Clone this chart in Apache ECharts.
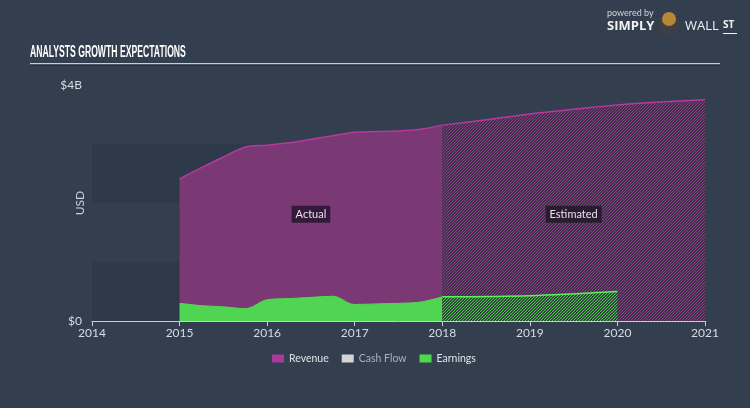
<!DOCTYPE html>
<html><head><meta charset="utf-8">
<script src="https://cdn.jsdelivr.net/npm/echarts@6/dist/echarts.min.js"></script>
<style>html,body{margin:0;padding:0;background:#333f4f;}#c{width:750px;height:408px;}</style>
</head><body><div id="c"></div>
<script>
// Data (USD billions), x = fractional year
const revenueActualX = [2015.0, 2015.25, 2015.5, 2015.75, 2016.0, 2016.25, 2016.5, 2016.75, 2017.0, 2017.25, 2017.5, 2017.75, 2018.0];
const revenueActual  = [2.41, 2.60, 2.78, 2.95, 2.98, 3.02, 3.08, 3.14, 3.20, 3.21, 3.22, 3.25, 3.32];
const revenueEstX = [2018.0, 2018.5, 2019.0, 2019.5, 2020.0, 2020.5, 2021.0];
const revenueEst  = [3.32, 3.41, 3.51, 3.59, 3.66, 3.71, 3.75];
const earningsActualX = [2015.0, 2015.25, 2015.5, 2015.75, 2016.0, 2016.25, 2016.5, 2016.75, 2017.0, 2017.25, 2017.5, 2017.75, 2018.0];
const earningsActual  = [0.30, 0.26, 0.24, 0.21, 0.36, 0.38, 0.40, 0.42, 0.28, 0.29, 0.30, 0.32, 0.41];
const earningsEstX = [2018.0, 2019.0, 2020.0];
const earningsEst  = [0.41, 0.43, 0.50];
const yearTicks = [2014, 2015, 2016, 2017, 2018, 2019, 2020, 2021];
const legendNames = ['Revenue', 'Cash Flow', 'Earnings'];

function pairs(xs, ys){ return xs.map((x,i)=>[x, ys[i]]); }
function hatch(fg, bg){
  const c = document.createElement('canvas'); c.width = 3; c.height = 3;
  const g = c.getContext('2d');
  g.fillStyle = bg; g.fillRect(0,0,3,3);
  g.fillStyle = fg;
  g.fillRect(2,0,1,1); g.fillRect(1,1,1,1); g.fillRect(0,2,1,1);
  return {image: c, repeat: 'repeat'};
}

const chart = echarts.init(document.getElementById('c'), null, {renderer:'canvas'});
const option = {
  backgroundColor: '#333f4f',
  animation: false,
  textStyle: {fontFamily: 'Lato, "Noto Sans", sans-serif'},
  grid: {left: 92, right: 45, top: 85, bottom: 87},
  legend: {
    data: [
      {name: legendNames[0], itemStyle: {color: '#a9399b'}},
      {name: legendNames[1], itemStyle: {color: '#d4d4d4'}, textStyle: {color: '#a9b0ba'}},
      {name: legendNames[2], itemStyle: {color: '#4fd84f'}}
    ],
    left: 267, top: 348, icon: 'rect', itemWidth: 12, itemHeight: 8, itemGap: 13,
    textStyle: {color: '#dfe3e8', fontSize: 10.5}, selectedMode: false
  },
  xAxis: {
    type: 'value', min: 2014, max: 2021, interval: 1,
    axisLine: {lineStyle: {color: '#c5cdd8', width: 1}},
    axisTick: {show: true, length: 5, lineStyle: {color: '#c5cdd8'}},
    axisLabel: {color: '#d6dbe2', fontSize: 12, margin: 6, formatter: v => String(v)},
    splitLine: {show: false}
  },
  yAxis: {
    type: 'value', min: 0, max: 4, interval: 4,
    axisLine: {show: false}, axisTick: {show: false},
    axisLabel: {color: '#d6dbe2', fontSize: 12, margin: 10, formatter: v => v === 0 ? '$0' : '$' + v + 'B'},
    splitLine: {show: false}
  },
  series: [
    {
      name: 'bands', type: 'line', data: [], z: 0, silent: true,
      markArea: {
        silent: true,
        itemStyle: {color: '#2e3a49'},
        data: [
          [{coord: [2014, 0]}, {coord: [2021, 1]}],
          [{coord: [2014, 2]}, {coord: [2021, 3]}]
        ]
      }
    },
    {
      name: 'Revenue', type: 'line', z: 2, smooth: 0.3, symbol: 'none',
      data: pairs(revenueActualX, revenueActual),
      itemStyle: {color: '#a9399b'},
      lineStyle: {color: '#b8389f', width: 1.5},
      areaStyle: {color: '#7a3874', opacity: 1},
      markPoint: {
        symbol: 'rect', symbolSize: 0,
        label: {show: true, formatter: '{b}', color: '#e8e2ea', fontSize: 11, backgroundColor: '#34193a', padding: [3, 4, 3, 4]},
        data: [{name: 'Actual', coord: [2016.5, 1.81]}]
      }
    },
    {
      name: 'Revenue', type: 'line', z: 2, smooth: 0.3, symbol: 'none',
      data: pairs(revenueEstX, revenueEst),
      itemStyle: {color: '#a9399b'},
      lineStyle: {color: '#b8389f', width: 1.5},
      areaStyle: {color: hatch('#923a8a', '#3d3349'), opacity: 1},
      markPoint: {
        symbol: 'rect', symbolSize: 0,
        label: {show: true, formatter: '{b}', color: '#e8e2ea', fontSize: 11, backgroundColor: '#2a1c30', padding: [3, 4, 3, 4]},
        data: [{name: 'Estimated', coord: [2019.5, 1.81]}]
      }
    },
    {
      name: 'Cash Flow', type: 'line', data: [], itemStyle: {color: '#d4d4d4'}
    },
    {
      name: 'Earnings', type: 'line', z: 3, smooth: 0.35, symbol: 'none',
      data: pairs(earningsActualX, earningsActual),
      itemStyle: {color: '#4fd84f'},
      lineStyle: {color: '#52d852', width: 1},
      areaStyle: {color: '#50d552', opacity: 1}
    },
    {
      name: 'Earnings', type: 'line', z: 3, smooth: 0.3, symbol: 'none',
      data: pairs(earningsEstX, earningsEst),
      itemStyle: {color: '#4fd84f'},
      lineStyle: {color: '#5ef05e', width: 1.5},
      areaStyle: {color: hatch('#4fc44f', '#2f4a3c'), opacity: 1}
    }
  ],
  graphic: [
    {type: 'text', x: 30, y: 45, scaleX: 0.54, style: {text: 'ANALYSTS GROWTH EXPECTATIONS', fill: '#ffffff', verticalAlign: 'top', align: 'left', font: 'bold 16px "Liberation Sans", sans-serif'}},
    {type: 'rect', shape: {x: 30, y: 63, width: 690, height: 1.5}, style: {fill: '#c3cfdb'}},
    {type: 'rect', shape: {x: 30, y: 64.5, width: 690, height: 1}, style: {fill: '#1e2732'}},
    {type: 'text', x: 80, y: 203, rotation: Math.PI / 2, style: {text: 'USD', fill: '#c9cfd8', align: 'center', verticalAlign: 'middle', font: '12px Lato, sans-serif'}},
    {type: 'text', left: 607, top: 9, style: {text: 'powered by', fill: '#d0d4da', font: '9px Lato, sans-serif'}},
    {type: 'text', left: 607, top: 20, style: {text: 'SIMPLY', fill: '#f2f2f2', font: 'bold 13px "Open Sans", Lato, sans-serif'}},
    {type: 'circle', shape: {cx: 669, cy: 25, r: 11}, style: {fill: '#3d3f44'}},
    {type: 'circle', shape: {cx: 669, cy: 19, r: 7}, style: {fill: '#b88735'}},
    {type: 'text', left: 685, top: 20, style: {text: 'WALL', fill: '#f2f2f2', font: '13px "Open Sans", Lato, sans-serif'}},
    {type: 'text', left: 723, top: 20, style: {text: 'ST', fill: '#f2f2f2', font: 'bold 10px "Open Sans", Lato, sans-serif'}},
    {type: 'rect', shape: {x: 723, y: 33, width: 14, height: 1}, style: {fill: '#f2f2f2'}}
  ]
};
chart.setOption(option);
</script></body></html>
